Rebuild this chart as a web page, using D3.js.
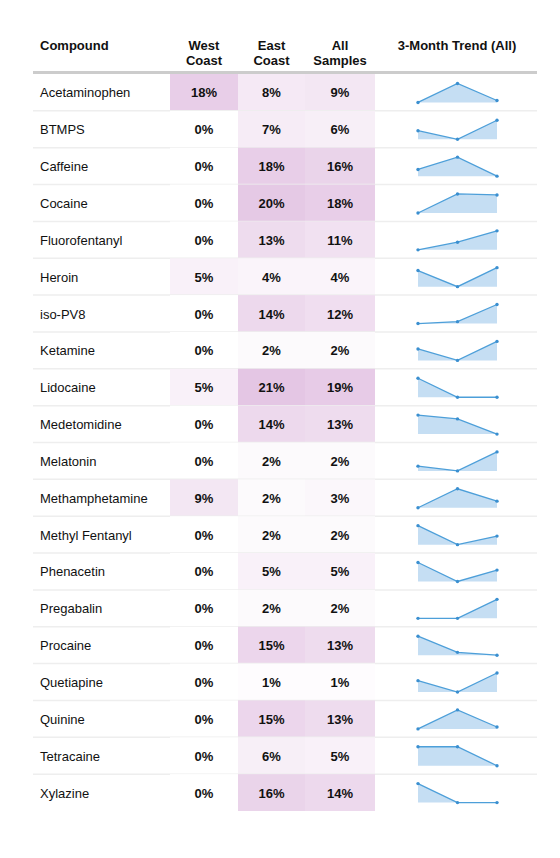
<!DOCTYPE html>
<html><head><meta charset="utf-8">
<script src="https://cdn.jsdelivr.net/npm/d3@7"></script>
<style>body{margin:0;background:#fff;font-family:Arial,"Liberation Sans",sans-serif}</style>
</head><body><svg id="c" width="560" height="858"></svg>
<script>
const compounds=["Acetaminophen","BTMPS","Caffeine","Cocaine","Fluorofentanyl","Heroin","iso-PV8","Ketamine","Lidocaine","Medetomidine","Melatonin","Methamphetamine","Methyl Fentanyl","Phenacetin","Pregabalin","Procaine","Quetiapine","Quinine","Tetracaine","Xylazine"];
const westCoast=[18,0,0,0,0,5,0,0,5,0,0,9,0,0,0,0,0,0,0,0];
const eastCoast=[8,7,18,20,13,4,14,2,21,14,2,2,2,5,2,15,1,15,6,16];
const allSamples=[9,6,16,18,11,4,12,2,19,13,2,3,2,5,2,13,1,13,5,14];
const trend=[[0,1,0.1],[0.45,0,1],[0.35,1,0],[0,1,0.95],[0,0.4,1],[0.85,0,1],[0,0.1,1],[0.6,0,1],[1,0,0],[1,0.8,0],[0.25,0,1],[0,1,0.35],[1,0,0.45],[1,0,0.6],[0,0,1],[1,0.15,0],[0.6,0,1],[0,1,0.1],[1,1,0],[1,0,0]];
const headers=[["Compound"],["West","Coast"],["East","Coast"],["All","Samples"],["3-Month Trend (All)"]];

const svg=d3.select("#c");
const tableTop=74,rowH=36.85;
const y=d3.scaleBand().domain(compounds).range([tableTop,tableTop+rowH*compounds.length]);
const cols=[{x0:33,x1:170},{x0:170,x1:238},{x0:238,x1:305},{x0:305,x1:375},{x0:375,x1:537}];
const color=d3.scaleLinear().domain([0,21]).range(["#ffffff","#e4c6e4"]);

headers.forEach((h,i)=>{
  const c=cols[i];
  const hx=i===0?40:(i===4?457:(c.x0+c.x1)/2);
  const t=svg.append("text").attr("font-size",13).attr("font-weight","bold").attr("fill","#111")
    .attr("text-anchor",i===0?"start":"middle");
  h.forEach((s,j)=>t.append("tspan").attr("x",hx).attr("y",50+j*15).text(s));
});
svg.append("rect").attr("x",33).attr("y",tableTop-3).attr("width",504).attr("height",3).attr("fill","#ccc");

const sx=d3.scaleLinear().domain([0,2]).range([418,497]);
const rows=svg.selectAll("g.row").data(compounds).join("g").attr("class","row");
rows.each(function(name,i){
  const g=d3.select(this), y0=y(name), h=y.bandwidth();
  [westCoast,eastCoast,allSamples].forEach((arr,k)=>{
    const c=cols[k+1],v=arr[i];
    g.append("rect").attr("x",c.x0).attr("y",y0).attr("width",c.x1-c.x0).attr("height",h).attr("fill",color(v));
    g.append("text").attr("x",(c.x0+c.x1)/2).attr("y",y0+h/2+5).attr("text-anchor","middle")
      .attr("font-size",13).attr("font-weight","bold").attr("fill","#111").text(v+"%");
  });
  g.append("text").attr("x",40).attr("y",y0+h/2+5).attr("font-size",13).attr("fill","#111").text(name);
  if(i<compounds.length-1) g.append("line").attr("x1",33).attr("x2",537).attr("y1",y0+h).attr("y2",y0+h).attr("stroke","#eee").attr("stroke-width",1.5);
  const sy=d3.scaleLinear().domain([0,1]).range([y0+h/2+10,y0+h/2-9]);
  const d=trend[i];
  g.append("path").datum(d).attr("d",d3.area().x((v,j)=>sx(j)).y0(sy(0)).y1(v=>sy(v))).attr("fill","#c5def3");
  g.append("path").datum(d).attr("d",d3.line().x((v,j)=>sx(j)).y(v=>sy(v))).attr("fill","none").attr("stroke","#4d9fd9").attr("stroke-width",1.3);
  g.selectAll("circle").data(d).join("circle").attr("cx",(v,j)=>sx(j)).attr("cy",v=>sy(v)).attr("r",1.7).attr("fill","#3a8fd0");
});
</script></body></html>
